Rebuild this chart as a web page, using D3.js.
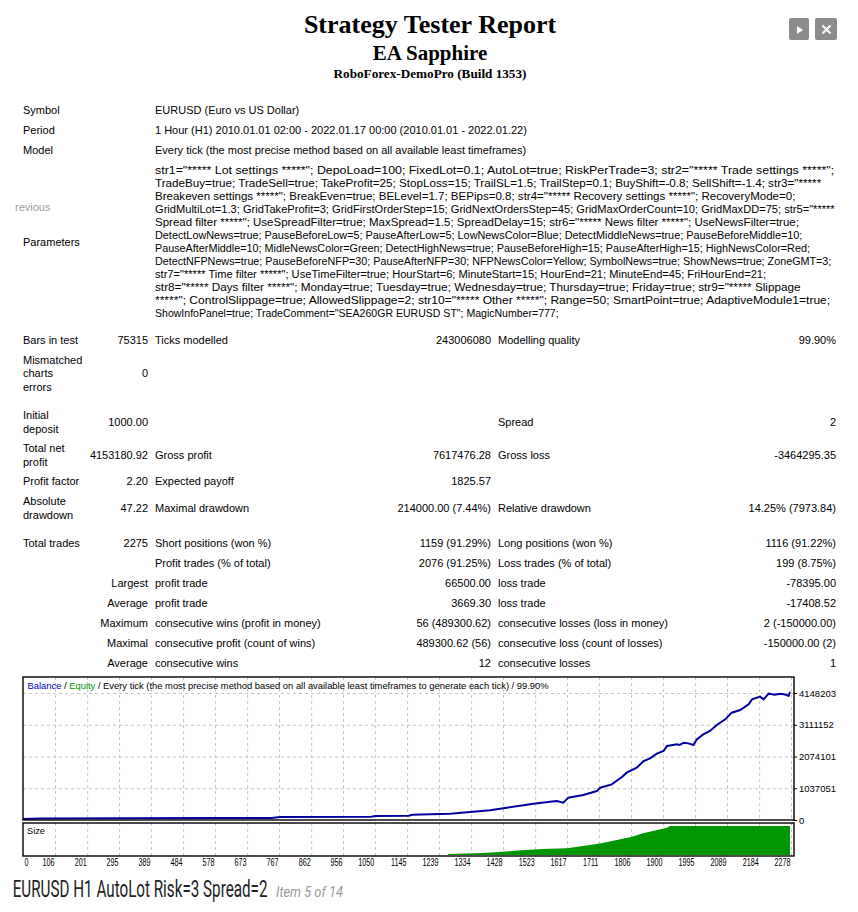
<!DOCTYPE html>
<html>
<head>
<meta charset="utf-8">
<script src="https://cdn.jsdelivr.net/npm/d3@7"></script>
<style>
  body { margin: 0; background: #fff; }
  text { font-family: 'Liberation Sans', Arial, sans-serif; fill: #000; }
</style>
</head>
<body>
<svg id="report"></svg>
<script>
// ---- report text ----
const titleText = 'Strategy Tester Report';
const eaName = 'EA Sapphire';
const serverText = 'RoboForex-DemoPro (Build 1353)';

const infoLabels = ['Symbol', 'Period', 'Model'];
const infoValues = [
  'EURUSD (Euro vs US Dollar)',
  '1 Hour (H1) 2010.01.01 02:00 - 2022.01.17 00:00 (2010.01.01 - 2022.01.22)',
  'Every tick (the most precise method based on all available least timeframes)'
];

const paramLines = [
  'str1="***** Lot settings *****"; DepoLoad=100; FixedLot=0.1; AutoLot=true; RiskPerTrade=3; str2="***** Trade settings *****";',
  'TradeBuy=true; TradeSell=true; TakeProfit=25; StopLoss=15; TrailSL=1.5; TrailStep=0.1; BuyShift=-0.8; SellShift=-1.4; str3="*****',
  'Breakeven settings *****"; BreakEven=true; BELevel=1.7; BEPips=0.8; str4="***** Recovery settings *****"; RecoveryMode=0;',
  'GridMultiLot=1.3; GridTakeProfit=3; GridFirstOrderStep=15; GridNextOrdersStep=45; GridMaxOrderCount=10; GridMaxDD=75; str5="*****',
  'Spread filter *****"; UseSpreadFilter=true; MaxSpread=1.5; SpreadDelay=15; str6="***** News filter *****"; UseNewsFilter=true;',
  'DetectLowNews=true; PauseBeforeLow=5; PauseAfterLow=5; LowNewsColor=Blue; DetectMiddleNews=true; PauseBeforeMiddle=10;',
  'PauseAfterMiddle=10; MidleNewsColor=Green; DetectHighNews=true; PauseBeforeHigh=15; PauseAfterHigh=15; HighNewsColor=Red;',
  'DetectNFPNews=true; PauseBeforeNFP=30; PauseAfterNFP=30; NFPNewsColor=Yellow; SymbolNews=true; ShowNews=true; ZoneGMT=3;',
  'str7="***** Time filter *****"; UseTimeFilter=true; HourStart=6; MinuteStart=15; HourEnd=21; MinuteEnd=45; FriHourEnd=21;',
  'str8="***** Days filter *****"; Monday=true; Tuesday=true; Wednesday=true; Thursday=true; Friday=true; str9="***** Slippage',
  '*****"; ControlSlippage=true; AllowedSlippage=2; str10="***** Other *****"; Range=50; SmartPoint=true; AdaptiveModule1=true;',
  'ShowInfoPanel=true; TradeComment="SEA260GR EURUSD ST"; MagicNumber=777;'
];

// each row: label, value, label, value, label, value
const statRows = [
  ['Bars in test', '75315', 'Ticks modelled', '243006080', 'Modelling quality', '99.90%'],
  ['Mismatched\ncharts\nerrors', '0', '', '', '', ''],
  ['Initial\ndeposit', '1000.00', '', '', 'Spread', '2'],
  ['Total net\nprofit', '4153180.92', 'Gross profit', '7617476.28', 'Gross loss', '-3464295.35'],
  ['Profit factor', '2.20', 'Expected payoff', '1825.57', '', ''],
  ['Absolute\ndrawdown', '47.22', 'Maximal drawdown', '214000.00 (7.44%)', 'Relative drawdown', '14.25% (7973.84)'],
  ['Total trades', '2275', 'Short positions (won %)', '1159 (91.29%)', 'Long positions (won %)', '1116 (91.22%)'],
  ['', '', 'Profit trades (% of total)', '2076 (91.25%)', 'Loss trades (% of total)', '199 (8.75%)'],
  ['', 'Largest', 'profit trade', '66500.00', 'loss trade', '-78395.00'],
  ['', 'Average', 'profit trade', '3669.30', 'loss trade', '-17408.52'],
  ['', 'Maximum', 'consecutive wins (profit in money)', '56 (489300.62)', 'consecutive losses (loss in money)', '2 (-150000.00)'],
  ['', 'Maximal', 'consecutive profit (count of wins)', '489300.62 (56)', 'consecutive loss (count of losses)', '-150000.00 (2)'],
  ['', 'Average', 'consecutive wins', '12', 'consecutive losses', '1']
];

// ---- chart data ----
const chartLegend = ['Balance', 'Equity', 'Every tick (the most precise method based on all available least timeframes to generate each tick)', '99.90%'];

const balanceTrades = [0, 60, 300, 600, 745, 770, 1040, 1050, 1150, 1160, 1213, 1272, 1331, 1390, 1439, 1488, 1518, 1567, 1587, 1606, 1621,
  1665, 1705, 1715, 1749, 1779, 1793, 1823, 1843, 1862, 1882, 1902, 1912, 1925, 1941, 1950, 1961, 1975, 1990, 2000, 2019, 2039, 2059,
  2084, 2103, 2128, 2153, 2163, 2187, 2197, 2212, 2230, 2246, 2260, 2271, 2275];
const balanceValues = [1000, 20000, 26000, 32000, 36000, 62000, 75000, 95000, 110000, 140000, 152000, 174000, 229000, 283000, 370000, 446000,
  501000, 566000, 588000, 533000, 697000, 784000, 914000, 1023000, 1132000, 1372000, 1513000, 1677000, 1894000, 1981000, 2134000, 2221000,
  2384000, 2410000, 2438000, 2420000, 2493000, 2470000, 2417000, 2602000, 2765000, 2874000, 3070000, 3255000, 3473000, 3560000, 3745000,
  3909000, 3996000, 3909000, 4094000, 4060000, 4094000, 4070000, 4018000, 4154181];

const sizeTrades = [0, 1265, 1266, 1369, 1425, 1493, 1546, 1617, 1664, 1714, 1764, 1809, 1841, 1871, 1912, 1921, 2275];
const sizeValues = [0, 0, 3.4, 6.9, 11.4, 17, 21, 23, 31, 40, 52, 63, 75, 83, 94, 100, 100];

const xTicks = [0, 106, 201, 295, 389, 484, 578, 673, 767, 862, 956, 1050, 1145, 1239, 1334, 1428, 1523, 1617, 1711, 1806, 1900, 1995, 2089, 2184, 2278];
const yTicks = [0, 1037051, 2074101, 3111152, 4148203];

const captionMain = 'EURUSD H1 AutoLot Risk=3 Spread=2';
const captionItem = 'Item 5 of 14';

// ---- layout ----
const W = 858, H = 912;
const svg = d3.select('#report').attr('width', W).attr('height', H);
svg.append('rect').attr('width', W).attr('height', H).attr('fill', '#fff');

const serif = "'Liberation Serif', 'Times New Roman', serif";

// squeeze/stretch a text placed at (x, y) to a wanted width
function fitText(sel, x, y, width) {
  const natural = sel.node().getComputedTextLength();
  sel.attr('x', 0).attr('y', 0)
    .attr('transform', 'translate(' + x + ',' + y + ') scale(' + (width / natural) + ',1)');
}

// header
svg.append('text').attr('x', 430).attr('y', 33).attr('text-anchor', 'middle')
  .style('font-family', serif).style('font-weight', 'bold').style('font-size', '26px').text(titleText);
svg.append('text').attr('x', 430).attr('y', 60).attr('text-anchor', 'middle')
  .style('font-family', serif).style('font-weight', 'bold').style('font-size', '21px').text(eaName);
svg.append('text').attr('x', 430).attr('y', 78).attr('text-anchor', 'middle')
  .style('font-family', serif).style('font-weight', 'bold').style('font-size', '13.2px').text(serverText);

// little grey buttons top right
const btns = svg.append('g');
btns.append('rect').attr('x', 789).attr('y', 18).attr('width', 20).attr('height', 22).attr('rx', 2).attr('fill', '#8c8c8c');
btns.append('path').attr('d', 'M797,26 L803,30 L797,34 Z').attr('fill', '#fff');
btns.append('rect').attr('x', 815).attr('y', 18).attr('width', 22).attr('height', 22).attr('rx', 2).attr('fill', '#8c8c8c');
btns.append('path').attr('d', 'M822.5,25.5 L830.5,33.5 M830.5,25.5 L822.5,33.5').attr('stroke', '#fff').attr('stroke-width', 2);

// "revious" leftover of a nav overlay
svg.append('text').attr('x', 15).attr('y', 211).style('font-size', '11px').style('fill', '#9a9a9a').text('revious');

// symbol / period / model
const infoY = [110, 130, 150];
infoLabels.forEach((l, i) => {
  svg.append('text').attr('x', 23).attr('y', infoY[i] + 4).style('font-size', '11px').text(l);
  svg.append('text').attr('x', 155).attr('y', infoY[i] + 4).style('font-size', '11px').text(infoValues[i]);
});

// parameters, each line fitted to the width it has in the report
const paramEnds = [835, 822, 796, 835, 799, 803, 811, 832, 767, 801, 831, 559];
svg.append('text').attr('x', 23).attr('y', 246).style('font-size', '11px').text('Parameters');
paramLines.forEach((line, i) => {
  const t = svg.append('text').style('font-size', '11px').text(line);
  fitText(t, 155, 174 + i * 13, paramEnds[i] - 155);
});

// stats table
const rowY = [340, 373.3, 422, 455, 481, 508, 543.3, 563.3, 583.3, 603.3, 623.3, 643.3, 663.3];
const colX = [23, 148, 155, 491, 498, 836];
statRows.forEach((row, r) => {
  row.forEach((cell, c) => {
    if (!cell) return;
    const lines = cell.split('\n');
    const t = svg.append('text')
      .attr('text-anchor', c % 2 === 1 ? 'end' : 'start')
      .style('font-size', '11px');
    const y0 = rowY[r] - (lines.length - 1) * 13.3 / 2 + 4;
    lines.forEach((ln, k) => {
      t.append('tspan').attr('x', colX[c]).attr('y', y0 + k * 13.3).text(ln);
    });
  });
});

// ---- chart ----
const plot = { left: 23, right: 794, top: 677, bottom: 820 };
const sizeBox = { top: 823, bottom: 856 };

const x = d3.scaleLinear().domain([0, 106, 2278]).range([23, 55, 791]);
const y = d3.scaleLinear().domain([0, 4148203]).range([820, 693]);
const ys = d3.scaleLinear().domain([0, 100]).range([855, 826]);

const grid = svg.append('g').attr('stroke', '#c4c4c4').attr('stroke-dasharray', '3,3').attr('stroke-width', 1);
xTicks.slice(1).forEach(t => {
  grid.append('line').attr('x1', x(t) + 0.5).attr('x2', x(t) + 0.5).attr('y1', plot.top).attr('y2', plot.bottom);
  grid.append('line').attr('x1', x(t) + 0.5).attr('x2', x(t) + 0.5).attr('y1', sizeBox.top).attr('y2', sizeBox.bottom);
});
yTicks.slice(1).forEach(v => {
  grid.append('line').attr('x1', plot.left).attr('x2', plot.right).attr('y1', y(v) + 0.5).attr('y2', y(v) + 0.5);
});

svg.append('clipPath').attr('id', 'plotClip').append('rect')
  .attr('x', plot.left).attr('y', plot.top).attr('width', plot.right - plot.left).attr('height', plot.bottom - plot.top);

// size area
const sizeData = d3.zip(sizeTrades, sizeValues);
svg.append('path').datum(sizeData)
  .attr('fill', '#009600')
  .attr('d', d3.area().x(d => x(d[0])).y0(ys(0)).y1(d => ys(d[1])));

// balance line
const balData = d3.zip(balanceTrades, balanceValues);
svg.append('path').datum(balData)
  .attr('clip-path', 'url(#plotClip)')
  .attr('fill', 'none')
  .attr('stroke', '#0000a0')
  .attr('stroke-width', 2)
  .attr('d', d3.line().x(d => x(d[0])).y(d => y(d[1]) - 1));

// frames
svg.append('rect').attr('x', plot.left).attr('y', plot.top)
  .attr('width', plot.right - plot.left).attr('height', plot.bottom - plot.top)
  .attr('fill', 'none').attr('stroke', '#000').attr('stroke-width', 1.4);
svg.append('rect').attr('x', plot.left).attr('y', sizeBox.top)
  .attr('width', plot.right - plot.left).attr('height', sizeBox.bottom - sizeBox.top)
  .attr('fill', 'none').attr('stroke', '#000').attr('stroke-width', 1.4);

// legend
const leg = svg.append('text').attr('x', 27.5).attr('y', 689).style('font-size', '9.4px');
leg.append('tspan').style('fill', '#0000c0').text(chartLegend[0]);
leg.append('tspan').text(' / ');
leg.append('tspan').style('fill', '#009600').text(chartLegend[1]);
leg.append('tspan').text(' / ' + chartLegend[2] + ' / ' + chartLegend[3]);

svg.append('text').attr('x', 27).attr('y', 834).style('font-size', '9.2px').text('Size');

// right value axis
const yAxis = svg.append('g')
  .attr('transform', 'translate(' + plot.right + ',0)')
  .call(d3.axisRight(y).tickValues(yTicks).tickSize(3).tickPadding(2).tickFormat(d3.format('d')));
yAxis.select('.domain').remove();
yAxis.selectAll('text').style('font-size', '9.5px').style('font-family', "'Liberation Sans', Arial, sans-serif");

// bottom trade axis
const xAxis = svg.append('g')
  .attr('transform', 'translate(0,' + sizeBox.bottom + ')')
  .call(d3.axisBottom(x).tickValues(xTicks).tickSize(0).tickPadding(3).tickFormat(d3.format('d')));
xAxis.select('.domain').remove();
xAxis.selectAll('text')
  .style('font-size', '10px')
  .style('font-family', "'Liberation Sans', Arial, sans-serif")
  .attr('text-anchor', (d, i) => (i === 0 ? 'start' : 'end'))
  .attr('transform', (d, i) => (i === 0 ? 'translate(1,0) scale(0.72,1)' : 'translate(-1,0) scale(0.72,1)'));

// caption under the picture
const cap = svg.append('text')
  .style('font-family', 'Roboto, sans-serif').style('font-size', '24px').style('fill', '#222')
  .text(captionMain);
fitText(cap, 12.7, 897, 255);
const item = svg.append('text')
  .style('font-family', 'Roboto, sans-serif').style('font-size', '15px').style('font-style', 'italic').style('fill', '#999')
  .text(captionItem);
fitText(item, 276, 897, 67);
</script>
</body>
</html>
